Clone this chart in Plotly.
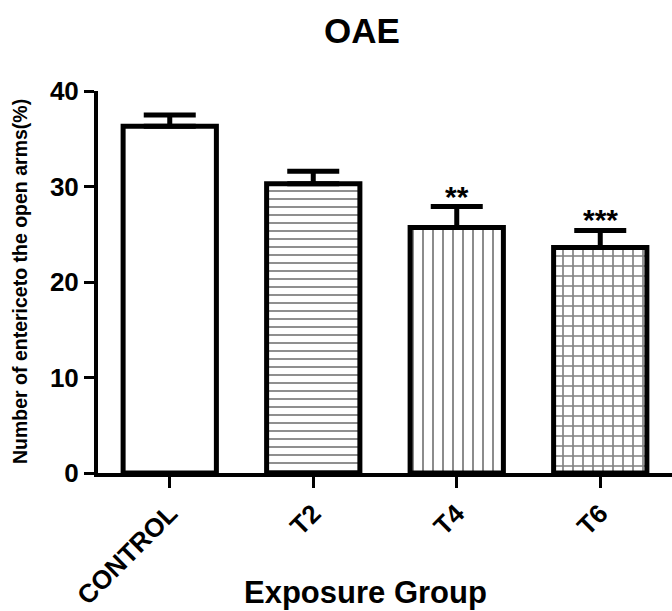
import plotly.graph_objects as go

# Data
categories = ["CONTROL", "T2", "T4", "T6"]
means = [36.3, 30.3, 25.7, 23.6]
sem = [1.2, 1.3, 2.2, 1.8]
significance = ["", "", "**", "***"]
patterns = ["", "-", "|", "+"]
y_ticks = [0, 10, 20, 30, 40]

FONT = "Liberation Sans, Arial, sans-serif"

fig = go.Figure()
fig.add_trace(go.Bar(
    x=categories,
    y=means,
    width=0.65,
    marker=dict(
        color="white",
        line=dict(color="black", width=5),
        pattern=dict(
            shape=patterns,
            fgcolor="black",
            bgcolor="white",
            size=[8, 8, 10, 10],
            solidity=[0.2, 0.22, 0.18, 0.3],
            fillmode="overlay",
        ),
    ),
    error_y=dict(
        type="data",
        symmetric=False,
        array=sem,
        arrayminus=[0, 0, 0, 0],
        color="black",
        thickness=5,
        width=26,
    ),
    showlegend=False,
))

# significance stars
for c, m, s, sig in zip(categories, means, sem, significance):
    if sig:
        fig.add_annotation(
            x=c, y=m + s, xref="x", yref="y",
            text=sig, showarrow=False,
            yanchor="bottom", yshift=-8,
            font=dict(family=FONT, size=30, color="black", weight="bold"),
        )

# Title
fig.add_annotation(
    x=(362 - 98) / 574, y=1, xref="paper", yref="paper",
    text="OAE", showarrow=False, xanchor="center", yanchor="middle",
    yshift=91 - 30,
    font=dict(family=FONT, size=35, color="black", weight="bold"),
)
# X axis title
fig.add_annotation(
    x=(365 - 98) / 574, y=0, xref="paper", yref="paper",
    text="Exposure Group", showarrow=False, xanchor="center", yanchor="middle",
    yshift=-(592 - 473),
    font=dict(family=FONT, size=31, color="black", weight="bold"),
)
# Y axis title
fig.add_annotation(
    x=0, y=0.5, xref="paper", yref="paper",
    text="Number of entericeto the open arms(%)", showarrow=False,
    textangle=-90, xanchor="center", yanchor="middle", xshift=-78,
    font=dict(family=FONT, size=19.5, color="black", weight="bold"),
)

fig.update_layout(
    width=672, height=611,
    margin=dict(l=98, r=0, t=91, b=138, pad=0, autoexpand=False),
    plot_bgcolor="white", paper_bgcolor="white",
    bargap=0.35,
)
fig.update_xaxes(
    range=[-0.5, 3.5], automargin=False,
    showline=True, linecolor="black", linewidth=4,
    ticks="outside", ticklen=11, tickwidth=3, tickcolor="black",
    tickangle=-45,
    tickfont=dict(family=FONT, size=26, color="black", weight="bold"),
    showgrid=False, zeroline=False,
)
fig.update_yaxes(
    range=[0, 40], automargin=False,
    tickvals=y_ticks,
    showline=True, linecolor="black", linewidth=4,
    ticks="outside", ticklen=10, tickwidth=3, tickcolor="black",
    tickfont=dict(family=FONT, size=26, color="black", weight="bold"),
    showgrid=False, zeroline=False,
)

fig.write_html(
    "out.html",
    config={"displayModeBar": False},
    post_script="document.body.style.margin='0';document.body.style.overflow='hidden';",
)
